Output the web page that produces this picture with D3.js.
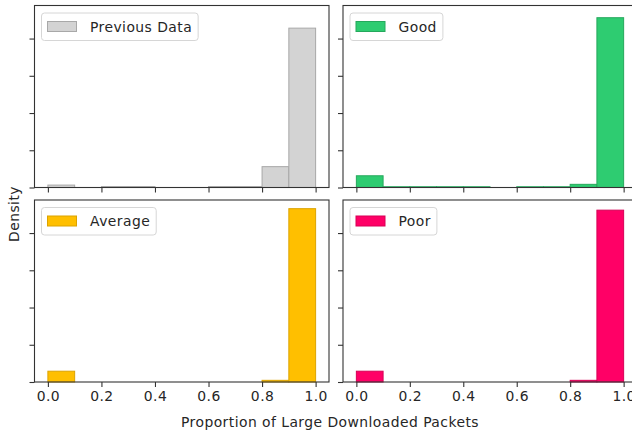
<!DOCTYPE html>
<html>
<head>
<meta charset="utf-8">
<script src="https://cdn.jsdelivr.net/npm/d3@7"></script>
<style>
  html, body { margin: 0; padding: 0; background: #fff; }
  svg { display: block; overflow: hidden; }
  text { font-family: "DejaVu Sans", sans-serif; fill: #262626; letter-spacing: 0.45px; }
</style>
</head>
<body>
<svg id="chart" width="632" height="432"></svg>
<script>
// Histogram bin edges (proportion of large downloaded packets)
const binEdges = [0, 0.1, 0.2, 0.3, 0.4, 0.5, 0.6, 0.7, 0.8, 0.9, 1.0];

// Density per bin for each group
const previousData = [0.13, 0, 0.05, 0.05, 0, 0, 0.05, 0.05, 1.12, 8.56];
const good         = [0.63, 0.04, 0.04, 0.04, 0.04, 0, 0.04, 0.04, 0.17, 9.12];
const average      = [0.58, 0, 0, 0, 0, 0, 0, 0, 0.09, 9.31];
const poor         = [0.58, 0, 0, 0, 0, 0, 0, 0, 0.09, 9.23];

const groupNames = ["Previous Data", "Good", "Average", "Poor"];
const xTicks = [0, 0.2, 0.4, 0.6, 0.8, 1.0];
const yTicks = [0, 2, 4, 6, 8];

const xLabel = "Proportion of Large Downloaded Packets";
const yLabel = "Density";

const fills   = ["#d3d3d3", "#2ecc71", "#ffbf00", "#ff0066"];
const strokes = ["#a8a8a8", "#25a85c", "#dca300", "#d80056"];

const series = [previousData, good, average, poor];

const svg = d3.select("#chart");
const FONT = 13.9;

// 2x2 grid of panels
const cols = [[34.5, 329], [343, 637]];
const rows = [[5.5, 187.5], [200, 382]];

const yMax = d3.max(series.flat()) * 1.05;

series.forEach((vals, i) => {
  const col = cols[i % 2], row = rows[Math.floor(i / 2)];
  const x = d3.scaleLinear().domain([-0.05, 1.05]).range(col);
  const y = d3.scaleLinear().domain([0, yMax]).range([row[1], row[0]]);
  const g = svg.append("g");

  const bars = vals.map((v, k) => ({ x0: binEdges[k], x1: binEdges[k + 1], v }))
                   .filter(d => d.v > 0);

  g.selectAll("rect.bar").data(bars).join("rect")
    .attr("class", "bar")
    .attr("x", d => x(d.x0))
    .attr("width", d => x(d.x1) - x(d.x0))
    .attr("y", d => y(d.v))
    .attr("height", d => y(0) - y(d.v))
    .attr("fill", fills[i])
    .attr("stroke", strokes[i])
    .attr("stroke-width", 1);

  // x axis: labels only on the bottom row
  const xAxis = d3.axisBottom(x).tickValues(xTicks).tickSize(5).tickPadding(4)
    .tickFormat(Math.floor(i / 2) === 1 ? d3.format(".1f") : () => "");
  const gx = g.append("g").attr("transform", `translate(0,${row[1]})`).call(xAxis);
  gx.select(".domain").remove();
  gx.selectAll("line").attr("stroke", "#333").attr("stroke-width", 1.1);
  gx.selectAll("text").attr("font-size", FONT).attr("fill", "#262626")
    .attr("font-family", "DejaVu Sans, sans-serif");

  // y axis: ticks without labels
  const yAxis = d3.axisLeft(y).tickValues(yTicks).tickSize(5).tickFormat(() => "");
  const gy = g.append("g").attr("transform", `translate(${col[0]},0)`).call(yAxis);
  gy.select(".domain").remove();
  gy.selectAll("line").attr("stroke", "#333").attr("stroke-width", 1.1);

  // frame
  g.append("rect")
    .attr("x", col[0]).attr("y", row[0])
    .attr("width", col[1] - col[0]).attr("height", row[1] - row[0])
    .attr("fill", "none").attr("stroke", "#333").attr("stroke-width", 1.1);

  // legend
  const lg = g.append("g").attr("transform", `translate(${col[0] + 7},${row[0] + 7.5})`);
  const box = lg.append("rect")
    .attr("x", 0).attr("y", 0).attr("height", 27.5).attr("rx", 3)
    .attr("fill", "#fff").attr("fill-opacity", 0.8)
    .attr("stroke", "#d6d6d6").attr("stroke-width", 1);
  lg.append("rect")
    .attr("x", 6).attr("y", 8.5).attr("width", 29).attr("height", 10)
    .attr("fill", fills[i]).attr("stroke", strokes[i]).attr("stroke-width", 1);
  const t = lg.append("text")
    .attr("x", 48.5).attr("y", 18.5)
    .attr("font-size", FONT)
    .text(groupNames[i]);
  box.attr("width", 48.5 + t.node().getComputedTextLength() + 6);
});

// shared axis labels
svg.append("text")
  .attr("x", 330).attr("y", 426.5)
  .attr("text-anchor", "middle").attr("font-size", FONT)
  .text(xLabel);

svg.append("text")
  .attr("transform", "translate(18.5,214) rotate(-90)")
  .attr("text-anchor", "middle").attr("font-size", FONT)
  .text(yLabel);
</script>
</body>
</html>
